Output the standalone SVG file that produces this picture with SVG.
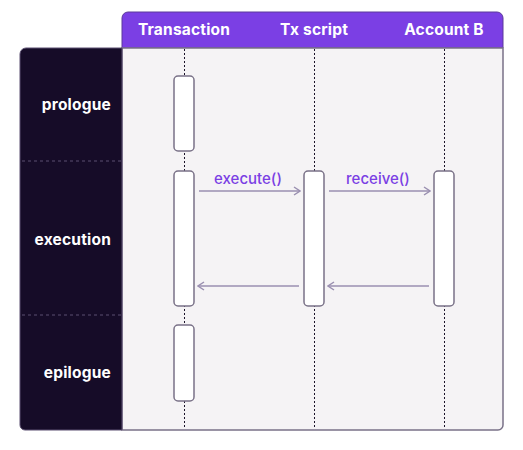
<svg xmlns="http://www.w3.org/2000/svg" width="523" height="450" viewBox="0 0 523 450">
<defs>
<style>
.hdr{font-family:Inter,"Liberation Sans",sans-serif;font-weight:700;font-size:15.5px;letter-spacing:0.2px;fill:#ffffff;text-anchor:middle}
.phase{font-family:Inter,"Liberation Sans",sans-serif;font-weight:700;font-size:15.5px;letter-spacing:0.2px;fill:#ffffff;text-anchor:end}
.msg{font-family:Inter,"Liberation Sans",sans-serif;font-weight:500;font-size:15px;fill:#7b3fe4;text-anchor:middle}
.life{stroke:#1a1228;stroke-width:1;stroke-dasharray:2 2}
.act{fill:#ffffff;stroke:#7a7288;stroke-width:1.5}
.arr{stroke:#9a8fb0;stroke-width:1.5;fill:none;marker-end:url(#head)}
.div{stroke:#5a4e70;stroke-width:1;stroke-dasharray:3 3}
</style>
<marker id="head" viewBox="0 0 10 10" refX="9" refY="5" markerWidth="10" markerHeight="10" markerUnits="userSpaceOnUse" orient="auto">
<path d="M3,1 L9,5 L3,9" fill="none" stroke="#9a8fb0" stroke-width="1.5"/>
</marker>
</defs>
<g id="frame">
<path d="M122,48 V18 a6,6 0 0 1 6,-6 H497 a6,6 0 0 1 6,6 V48 Z" fill="#7b3fe4" stroke="#5c3a9a" stroke-width="1"/>
<path d="M122,48 H503 V425 a5,5 0 0 1 -5,5 H122 Z" fill="#f5f3f5" stroke="#7a7288" stroke-width="1.5"/>
<path d="M122,48 H26 a6,6 0 0 0 -6,6 V425 a5,5 0 0 0 5,5 H122 Z" fill="#160c28" stroke="#5a4e70" stroke-width="1"/>
<line class="div" x1="22" y1="161" x2="121" y2="161"/>
<line class="div" x1="22" y1="315" x2="121" y2="315"/>
</g>
<g id="header-transaction"><text class="hdr" x="184" y="35">Transaction</text></g>
<g id="header-txscript"><text class="hdr" x="314" y="35">Tx script</text></g>
<g id="header-accountb"><text class="hdr" x="444" y="35">Account B</text></g>
<g id="phase-prologue"><text class="phase" x="111" y="110">prologue</text></g>
<g id="phase-execution"><text class="phase" x="111" y="245">execution</text></g>
<g id="phase-epilogue"><text class="phase" x="111" y="378">epilogue</text></g>
<g id="lifelines">
<line class="life" x1="184.5" y1="49" x2="184.5" y2="429"/>
<line class="life" x1="314.5" y1="49" x2="314.5" y2="429"/>
<line class="life" x1="444.5" y1="49" x2="444.5" y2="429"/>
</g>
<g id="act-prologue"><rect class="act" x="174" y="76" width="20" height="75" rx="4"/></g>
<g id="act-tx-exec"><rect class="act" x="174" y="171" width="20" height="135" rx="4"/></g>
<g id="act-script-exec"><rect class="act" x="304" y="171" width="20" height="135" rx="4"/></g>
<g id="act-acct-exec"><rect class="act" x="434" y="171" width="20" height="135" rx="4"/></g>
<g id="act-epilogue"><rect class="act" x="174" y="325" width="20" height="76" rx="4"/></g>
<g id="connectors">
<line class="arr" x1="199" y1="191" x2="300" y2="191"/>
<line class="arr" x1="329" y1="191" x2="430" y2="191"/>
<line class="arr" x1="299" y1="286" x2="198" y2="286"/>
<line class="arr" x1="429" y1="286" x2="328" y2="286"/>
<text class="msg" x="248" y="184">execute()</text>
<text class="msg" x="378" y="184">receive()</text>
</g>
</svg>
